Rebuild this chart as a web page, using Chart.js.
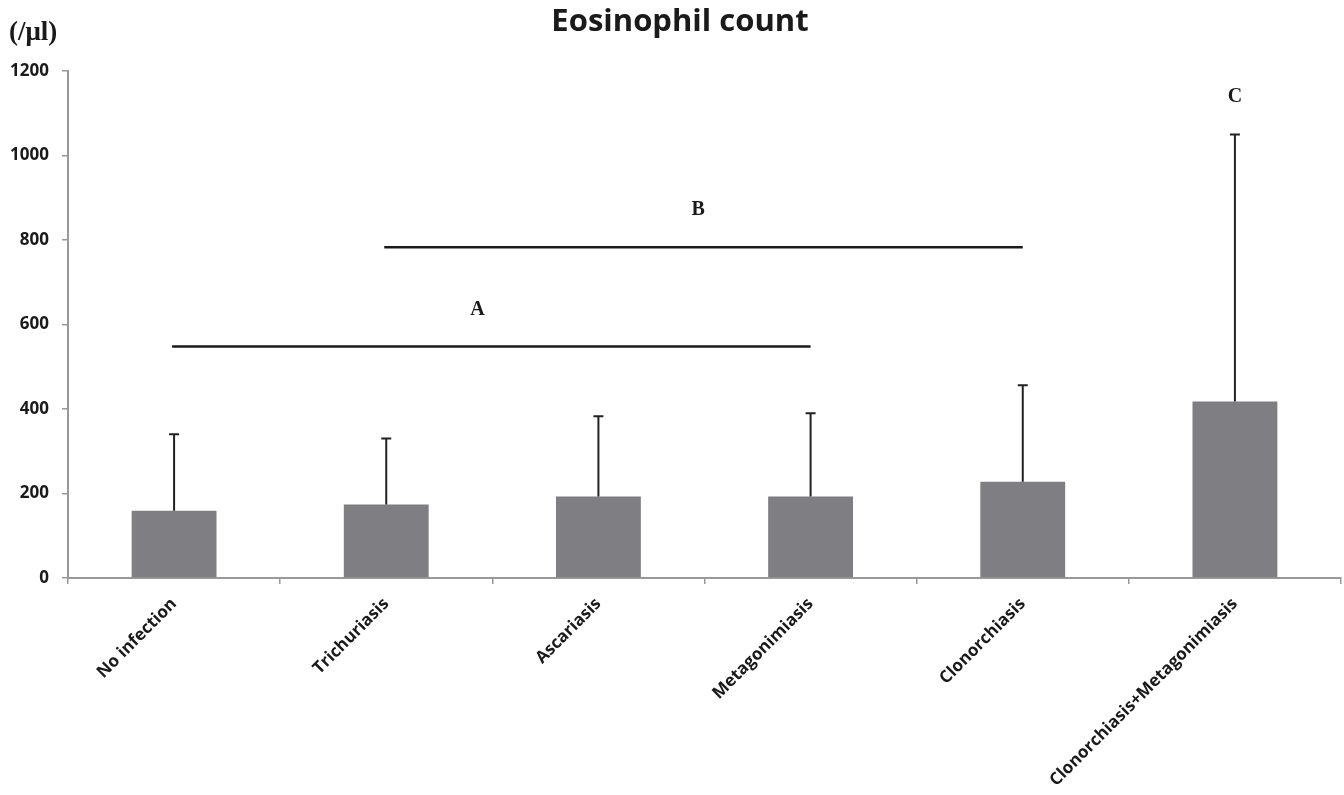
<!DOCTYPE html>
<html>
<head>
<meta charset="utf-8">
<script src="https://cdn.jsdelivr.net/npm/chart.js@4/dist/chart.umd.min.js"></script>
<style>
  html, body { margin: 0; padding: 0; background: #fff; }
  #wrap { width: 1344px; height: 795px; }
</style>
</head>
<body>
<div id="wrap"><canvas id="chart1"></canvas></div>
<script>
// data
const categories = ['No infection', 'Trichuriasis', 'Ascariasis', 'Metagonimiasis', 'Clonorchiasis', 'Clonorchiasis+Metagonimiasis'];
const means = [159, 174, 193, 193, 228, 418];
const upperErr = [340, 330, 383, 390, 456, 1050];   // top of the error bar
const yTicks = [0, 200, 400, 600, 800, 1000, 1200];

// significance brackets: from category, to category, level
const bracketFrom = [0, 1];
const bracketTo = [3, 4];
const bracketLevel = [548, 783];
// letters: label, category position, value
const letterText = ['A', 'B', 'C'];
const letterPos = [1.43, 2.47, 5];
const letterLevel = [635, 872, 1138];

const annotations = {
  id: 'annotations',
  afterDatasetsDraw(chart) {
    const { ctx, scales: { x, y } } = chart;
    ctx.save();
    // error bars (upper only)
    ctx.strokeStyle = '#222';
    ctx.lineWidth = 2;
    means.forEach((m, i) => {
      const px = x.getPixelForValue(i);
      const y0 = y.getPixelForValue(m);
      const y1 = y.getPixelForValue(upperErr[i]);
      ctx.beginPath();
      ctx.moveTo(px, y0);
      ctx.lineTo(px, y1);
      ctx.moveTo(px - 5, y1);
      ctx.lineTo(px + 5, y1);
      ctx.stroke();
    });
    // brackets
    ctx.strokeStyle = '#1a1a1a';
    ctx.lineWidth = 2.5;
    bracketLevel.forEach((v, i) => {
      const py = y.getPixelForValue(v);
      ctx.beginPath();
      ctx.moveTo(x.getPixelForValue(bracketFrom[i]) - 2, py);
      ctx.lineTo(x.getPixelForValue(bracketTo[i]), py);
      ctx.stroke();
    });
    // letters
    ctx.fillStyle = '#1a1a1a';
    ctx.font = 'bold 20px "Liberation Serif", "Times New Roman", serif';
    ctx.textAlign = 'center';
    ctx.textBaseline = 'middle';
    letterText.forEach((t, i) => {
      const pos = letterPos[i];
      const px = x.getPixelForValue(Math.floor(pos)) + (pos % 1) * (x.getPixelForValue(1) - x.getPixelForValue(0));
      ctx.fillText(t, px, y.getPixelForValue(letterLevel[i]));
    });
    // unit label and title
    ctx.font = 'bold 27px "Liberation Serif", "Times New Roman", serif';
    ctx.textAlign = 'left';
    ctx.fillText('(/\u03bcl)', 9, 33);
    ctx.font = 'bold 31px "Open Sans", sans-serif';
    ctx.textAlign = 'center';
    ctx.fillText('Eosinophil count', 680, 22);
    ctx.restore();
  }
};

new Chart('chart1', {
  type: 'bar',
  data: {
    labels: categories,
    datasets: [{
      data: means,
      backgroundColor: '#7f7f83',
      categoryPercentage: 1,
      barPercentage: 0.4
    }]
  },
  options: {
    responsive: true,
    maintainAspectRatio: false,
    animation: false,
    layout: { padding: { top: 71, right: 3, left: 0, bottom: 0 } },
    plugins: { legend: { display: false }, tooltip: { enabled: false }, title: { display: false } },
    scales: {
      x: {
        offset: true,
        afterFit(scale) { scale.height = 217; },
        grid: { offset: true, drawOnChartArea: false, tickLength: 6, color: '#999', lineWidth: 1.5 },
        border: { color: '#999', width: 2 },
        ticks: {
          color: '#1a1a1a',
          font: { family: '"Open Sans", sans-serif', weight: 'bold', size: 17 },
          minRotation: 45,
          maxRotation: 45,
          padding: 10
        }
      },
      y: {
        min: 0,
        max: 1200,
        afterFit(scale) { scale.width = 68; },
        afterBuildTicks(scale) { scale.ticks = yTicks.map(v => ({ value: v })); },
        grid: { drawOnChartArea: false, tickLength: 6, color: '#999', lineWidth: 1.5 },
        border: { color: '#999', width: 2 },
        ticks: {
          color: '#1a1a1a',
          font: { family: '"Open Sans", sans-serif', weight: 'bold', size: 17 },
          padding: 13,
          callback: v => String(v)
        }
      }
    }
  },
  plugins: [annotations]
});
</script>
</body>
</html>
